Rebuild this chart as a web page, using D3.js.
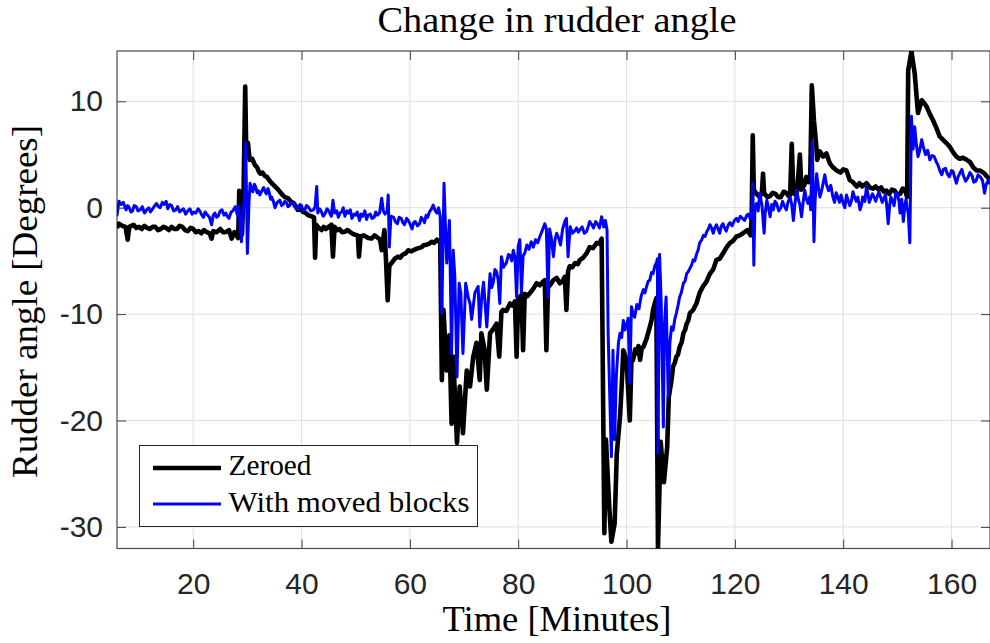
<!DOCTYPE html>
<html>
<head>
<meta charset="utf-8">
<script src="https://d3js.org/d3.v7.min.js"></script>
<style>
    body { margin: 0; background: #ffffff; }
    .grid line { stroke: #dedede; stroke-width: 1; }
    .axis text { font-family: "Liberation Sans", Arial, sans-serif; font-size: 30px; fill: #262626; }
    .axis line { stroke: #404040; stroke-width: 1; }
    .serif { font-family: "Liberation Serif", "Times New Roman", serif; fill: #000000; }
</style>
</head>
<body>
<script>
//chart texts
var chartTitle = "Change in rudder angle",
    xTitle = "Time [Minutes]",
    yTitle = "Rudder angle [Degrees]",
    seriesNames = ["Zeroed", "With moved blocks"];

//tick values and their labels
var xTicks = [20, 40, 60, 80, 100, 120, 140, 160];
var xTickLabels = ["20", "40", "60", "80", "100", "120", "140", "160"];
var yTicks = [-30, -20, -10, 0, 10];
var yTickLabels = ["-30", "-20", "-10", "0", "10"];

//axis limits (tight to the data)
var xLimits = [5.93, 167.1];
var yLimits = [-32.03, 14.73];

//zeroed series: [minutes, degrees]
var zeroedData = [
    [5.9,-1.9],[6.3,-1.5],[6.9,-1.7],[7.5,-1.8],[7.9,-3.0],[8.2,-1.8],[9,-1.6],[9.5,-1.9],[10,-1.8],[10.5,-2.0],
    [11,-1.7],[11.5,-1.9],[12,-2.0],[12.5,-1.8],[13,-1.8],[13.5,-2.1],[14,-2.0],[14.5,-1.8],[15,-1.9],[15.5,-2.1],
    [16,-1.8],[16.5,-2.0],[17,-2.0],[17.5,-1.7],[18,-1.8],[18.5,-2.1],[19,-2.2],[19.5,-1.9],[20,-2.0],[20.5,-2.3],
    [21,-2.2],[21.5,-2.4],[22,-2.1],[22.5,-2.3],[23,-2.4],[23.4,-2.9],[23.7,-2.2],[24.3,-2.3],[25,-2.0],[25.5,-2.3],
    [26,-2.3],[26.6,-2.1],[27.1,-2.9],[27.6,-2.3],[28.3,-2.85],[28.5,1.6],[28.8,1.0],[29.0,-2.5],[29.3,1.5],[29.6,11.4],
    [29.8,5.0],[30.1,6.1],[30.4,4.5],[30.9,4.6],[31.4,4.0],[31.8,3.8],[32.1,3.4],[32.4,3.2],[32.8,3.3],[33.2,3.0],
    [33.6,2.9],[34,2.6],[34.5,2.3],[35.1,2.0],[35.5,1.8],[36,1.5],[36.5,1.2],[36.9,1.0],[37.5,0.9],[38,0.6],
    [38.6,0.4],[39.3,-0.2],[39.8,-0.1],[40.3,-0.4],[40.8,-0.5],[41.2,-0.7],[41.8,-0.8],[42.3,-0.9],[42.5,-4.7],[42.7,-1.6],
    [43.2,-1.9],[43.7,-2.1],[44.1,-1.8],[44.5,-2.0],[45.0,-1.8],[45.5,-1.6],[45.8,-4.6],[46.1,-1.8],[46.6,-2.1],[47,-2.0],
    [47.5,-2.3],[48,-2.25],[48.5,-2.1],[49,-2.3],[49.6,-2.5],[50.4,-2.6],[50.6,-4.6],[50.9,-2.7],[51.5,-2.6],[52.3,-2.85],
    [52.9,-2.9],[53.5,-2.6],[54.0,-2.8],[54.5,-3.0],[54.8,-4.0],[55.3,-2.1],[55.6,-5.0],[55.9,-8.7],[56.2,-5.5],[56.6,-5.2],
    [57.2,-4.8],[57.8,-4.6],[58.2,-4.7],[58.7,-4.4],[59.2,-4.3],[59.7,-4.0],[60.3,-4.1],[61,-3.9],[61.6,-3.8],[62.2,-3.7],
    [62.6,-3.5],[63,-3.5],[63.5,-3.4],[64,-3.2],[64.5,-3.3],[65,-3.0],[65.6,-3.3],[65.9,-16.2],[66.2,-9.6],[66.8,-15.3],
    [67.3,-12.0],[67.7,-20.3],[68.0,-14.0],[68.7,-22.1],[69.2,-16.8],[69.8,-21.2],[70.5,-15.3],[71.1,-16.8],[71.7,-14.0],[72.3,-12.7],
    [72.9,-16.2],[73.2,-11.8],[73.8,-13.4],[74.2,-17.1],[74.8,-11.8],[75.4,-11.4],[76.0,-10.9],[76.5,-14.0],[76.9,-9.8],[77.2,-9.6],
    [77.8,-9.7],[78.5,-9.0],[79.0,-9.2],[79.4,-8.8],[79.7,-14.0],[80.0,-8.6],[80.6,-8.2],[80.9,-13.4],[81.2,-8.1],[81.7,-8.3],
    [82.2,-8.0],[82.8,-7.6],[83.4,-7.1],[84.0,-7.3],[84.5,-7.0],[84.9,-6.8],[85.2,-13.4],[85.5,-7.5],[86.0,-7.2],[86.5,-6.8],
    [87.1,-6.6],[87.7,-7.1],[88.2,-6.9],[88.6,-6.5],[88.9,-9.6],[89.2,-6.0],[89.5,-5.5],[90.0,-5.6],[90.5,-5.2],[91.0,-5.3],
    [91.4,-4.9],[92.0,-4.7],[92.6,-4.3],[93.2,-3.7],[93.8,-3.8],[94.5,-3.3],[95.0,-3.4],[95.4,-2.9],[95.9,-30.6],[96.2,-21.8],
    [96.8,-28.0],[97.2,-31.4],[97.8,-29.7],[98.2,-23.1],[98.8,-19.6],[99.1,-16.8],[99.4,-13.4],[100.0,-14.3],[100.6,-20.0],[100.9,-14.5],
    [101.2,-14.3],[101.6,-13.3],[101.9,-13.7],[102.2,-13.0],[102.5,-14.3],[102.8,-13.2],[103.1,-13.1],[103.7,-12.3],[104.3,-11.2],[104.6,-10.6],
    [104.9,-9.6],[105.2,-9.0],[105.5,-8.5],[105.8,-32.0],[106.3,-22.0],[106.9,-25.8],[107.5,-22.5],[107.8,-17.8],[108.3,-16.2],[108.6,-14.9],
    [108.9,-14.6],[109.2,-14.0],[109.5,-13.8],[109.8,-13.1],[110.2,-12.6],[110.5,-11.8],[110.8,-11.5],[111.1,-10.9],[111.4,-10.6],[111.7,-9.9],
    [112.3,-9.6],[112.9,-9.0],[113.5,-8.0],[114.1,-7.4],[114.7,-7.0],[115.4,-6.2],[116.0,-5.8],[116.6,-4.9],[117.2,-4.8],[117.8,-4.3],
    [118.5,-3.7],[119.1,-3.3],[119.7,-3.1],[120.3,-2.7],[120.9,-2.6],[121.5,-2.4],[122.3,-2.1],[122.9,-2.6],[123.1,-1.0],[123.3,6.8],
    [123.5,1.7],[124,1.3],[124.6,1.0],[125.0,1.5],[125.2,3.2],[125.4,1.35],[126.0,1.0],[126.5,1.1],[127.0,1.4],[127.5,1.3],
    [128.0,1.0],[128.5,1.0],[129.0,1.5],[129.5,1.4],[129.9,1.1],[130.2,1.2],[130.5,6.0],[130.8,1.4],[131.2,1.2],[131.5,1.6],
    [132.0,5.0],[132.3,1.7],[132.8,2.1],[133.2,2.9],[133.6,2.4],[133.9,2.5],[134.2,11.5],[134.6,8.2],[135.0,6.0],[135.2,4.5],
    [135.7,5.3],[136.3,4.8],[136.9,5.1],[137.5,4.2],[138.1,3.8],[138.8,3.5],[139.5,3.3],[140.0,3.6],[140.6,3.5],[141.2,2.6],
    [141.8,2.4],[142.5,2.0],[143.0,2.3],[143.5,2.0],[144.3,2.3],[144.9,1.9],[145.5,1.8],[146.0,2.0],[146.5,1.7],[147.0,1.9],
    [147.5,1.5],[148.0,1.6],[148.5,1.3],[149.0,1.7],[149.5,1.6],[150.0,1.2],[150.5,1.3],[151.0,1.8],[151.4,1.7],[151.8,1.0],
    [152.0,12.9],[152.6,14.7],[153.2,12.6],[153.8,8.9],[154.5,10.1],[155.0,9.8],[155.4,9.5],[156.0,8.8],[156.6,8.2],[157.2,7.5],
    [157.8,6.7],[158.4,6.4],[159.1,6.05],[159.7,5.7],[160.3,5.2],[160.9,4.8],[161.5,4.6],[162.1,4.7],[162.8,4.5],[163.4,4.3],
    [164.0,3.8],[164.6,3.5],[165.3,3.5],[166.1,3.2],[167.1,2.6]
];

//moved blocks series: [minutes, degrees]
var movedData = [
    [5.9,-0.8],[6.3,0.6],[6.7,0.3],[7.1,0.5],[7.6,-0.2],[7.9,0.2],[8.2,0.0],[8.5,-0.4],[8.8,-0.3],[9.1,0.2],
    [9.5,0.1],[9.8,-0.3],[10.2,-0.2],[10.6,0.1],[11,-0.5],[11.4,-0.2],[11.8,0.0],[12.1,-0.4],[12.5,-0.1],[12.9,0.2],
    [13.2,0.4],[13.6,0.1],[13.9,0.0],[14.3,0.5],[14.6,0.3],[15.0,0.6],[15.3,-0.1],[15.7,0.3],[16,0.2],[16.4,-0.3],
    [16.8,-0.2],[17.1,0.1],[17.5,-0.4],[17.9,-0.2],[18.2,-0.1],[18.6,-0.6],[19,-0.3],[19.4,-0.1],[19.8,-0.6],[20.1,-0.4],
    [20.5,-0.5],[20.9,-0.1],[21.2,-0.3],[21.6,-0.7],[21.9,-0.9],[22.2,-0.4],[22.5,-0.6],[23.0,-0.9],[23.4,-1.6],[23.7,-0.7],
    [24,-0.5],[24.3,-0.9],[24.6,-0.8],[25.0,-0.3],[25.3,-0.2],[25.7,-0.7],[26,-0.5],[26.3,-0.8],[26.6,-1.0],[27.0,-0.4],
    [27.3,-0.3],[27.8,0.1],[28.1,-0.6],[28.4,0.1],[28.9,-3.2],[29.2,-0.5],[29.5,1.0],[29.7,6.1],[29.9,-1.0],[30.0,-4.3],
    [30.3,0.5],[30.5,2.3],[30.8,1.8],[31,1.5],[31.3,2.2],[31.5,2.0],[31.8,1.4],[32,1.6],[32.3,1.2],[32.5,1.4],
    [33,1.9],[33.3,1.5],[33.5,1.3],[33.8,1.8],[34,1.5],[34.3,0.8],[34.5,1.0],[34.8,0.6],[35.1,0.0],[35.5,0.5],
    [36.0,0.7],[36.3,0.2],[36.6,0.3],[36.9,0.6],[37.2,0.5],[37.5,0.1],[37.8,0.2],[38.1,0.5],[38.5,0.4],[38.9,0.0],
    [39.3,-0.1],[39.7,0.3],[40,0.2],[40.3,-0.3],[40.6,-0.2],[40.9,0.2],[41.2,0.1],[41.7,-0.3],[42.2,-0.2],[42.5,0.1],
    [42.8,2.0],[43.0,-0.5],[43.3,-0.1],[43.6,-0.3],[44.0,-0.8],[44.3,-0.6],[44.7,-0.1],[45.0,-0.3],[45.5,-0.8],[45.8,0.7],
    [46.1,-0.5],[46.5,-0.3],[46.8,-0.9],[47.1,-0.5],[47.4,-0.4],[47.7,0.0],[48.0,-0.8],[48.4,-0.3],[48.7,-0.5],[49.0,-0.2],
    [49.3,-1.0],[49.7,-0.6],[50,-0.7],[50.3,-0.4],[50.7,-1.2],[51.0,-0.6],[51.3,-0.8],[51.7,-0.3],[52,-1.1],[52.3,-0.7],
    [52.7,-0.6],[53.0,-1.0],[53.4,-0.9],[53.7,-0.4],[54,-0.7],[54.4,-0.5],[54.8,0.9],[55.1,-0.3],[55.4,-0.6],[55.8,-0.3],
    [56.0,1.2],[56.2,-3.7],[56.5,-0.8],[57,-0.9],[57.3,-1.3],[57.7,-1.5],[58.0,-0.9],[58.4,-1.0],[58.7,-1.4],[59,-1.6],
    [59.4,-1.0],[59.7,-1.2],[60.0,-1.5],[60.4,-2.0],[60.7,-1.4],[61,-1.3],[61.4,-1.7],[61.8,-1.5],[62.1,-0.9],[62.4,-1.1],
    [62.7,-1.4],[63,-0.7],[63.3,-0.9],[63.6,-0.4],[64.0,-0.1],[64.3,0.25],[64.7,-0.3],[65.0,-0.5],[65.3,0.0],[65.6,-0.8],
    [65.9,-9.9],[66.3,2.3],[66.8,-5.2],[67.3,-1.2],[67.7,-13.7],[68.0,-4.0],[68.3,-6.5],[68.7,-15.9],[69.1,-7.1],[69.4,-8.0],
    [69.8,-13.7],[70.3,-7.1],[70.8,-8.5],[71.1,-9.0],[71.4,-10.5],[72.0,-8.0],[72.6,-7.4],[72.9,-11.2],[73.3,-8.2],[73.6,-7.0],
    [74.2,-11.2],[74.8,-6.2],[75.1,-7.5],[75.4,-7.0],[75.7,-5.8],[76.0,-6.0],[76.3,-6.8],[76.6,-9.0],[76.9,-4.6],[77.3,-5.6],
    [77.8,-5.2],[78.2,-4.4],[78.5,-4.5],[78.8,-5.0],[79.1,-4.0],[79.4,-4.6],[79.7,-8.4],[80.0,-3.6],[80.3,-3.0],[80.6,-8.0],
    [80.9,-4.5],[81.2,-4.3],[81.6,-3.5],[82.0,-3.9],[82.4,-3.2],[82.8,-3.7],[83.2,-3.0],[83.6,-3.3],[84.0,-2.7],[84.4,-2.2],
    [84.9,-1.5],[85.2,-2.0],[85.5,-8.4],[85.8,-2.0],[86.1,-2.8],[86.5,-4.6],[86.8,-3.0],[87.1,-2.4],[87.5,-2.9],[87.8,-3.5],
    [88.2,-2.0],[88.6,-1.3],[88.9,-1.0],[89.2,-4.6],[89.6,-1.8],[90.0,-2.4],[90.4,-2.2],[90.8,-1.9],[91.1,-2.3],[91.5,-2.0],
    [91.8,-1.8],[92.2,-2.4],[92.6,-2.25],[92.9,-1.8],[93.2,-1.3],[93.6,-1.6],[93.9,-1.9],[94.3,-1.3],[94.6,-1.5],[95.0,-1.9],
    [95.4,-0.85],[95.8,-1.8],[96.1,-1.2],[96.4,-2.1],[96.6,-11.8],[97.2,-23.4],[97.5,-13.4],[97.8,-21.8],[98.1,-16.0],[98.5,-12.7],
    [98.8,-11.8],[99.1,-12.2],[99.4,-10.6],[99.7,-11.5],[100.0,-11.0],[100.3,-10.4],[100.6,-16.5],[100.9,-9.3],[101.2,-10.0],[101.5,-10.3],
    [101.9,-9.1],[102.3,-9.5],[102.7,-8.3],[103.1,-7.7],[103.4,-8.0],[103.7,-7.4],[104.0,-6.9],[104.3,-6.8],[104.6,-6.1],[104.9,-6.2],
    [105.2,-5.5],[105.5,-5.2],[105.7,-4.8],[105.8,-23.1],[106.1,-4.4],[106.4,-9.0],[106.8,-20.6],[107.0,-11.0],[107.3,-8.4],[107.7,-17.8],
    [108.0,-12.7],[108.3,-11.2],[108.6,-11.5],[108.9,-10.5],[109.2,-9.9],[109.5,-9.2],[109.8,-8.4],[110.1,-8.0],[110.5,-7.1],[110.8,-6.9],
    [111.1,-6.2],[111.4,-6.0],[111.7,-5.7],[112.0,-5.4],[112.3,-4.9],[112.6,-5.0],[112.9,-4.4],[113.2,-4.0],[113.5,-3.3],[113.8,-3.1],
    [114.2,-2.6],[114.5,-2.7],[114.8,-2.25],[115.1,-2.0],[115.4,-1.6],[115.7,-1.9],[116.0,-2.4],[116.3,-1.9],[116.6,-1.6],[116.9,-2.0],
    [117.2,-2.4],[117.5,-1.7],[117.8,-1.5],[118.1,-1.9],[118.4,-2.2],[118.8,-1.6],[119.1,-1.4],[119.5,-1.7],[119.9,-1.2],[120.3,-1.0],
    [120.6,-1.3],[121.0,-0.8],[121.4,-1.0],[121.8,-1.2],[122.2,-0.7],[122.5,-0.6],[122.8,-1.0],[123.1,-0.5],[123.3,2.3],[123.5,-5.4],
    [123.7,0.0],[124.0,0.4],[124.3,-0.3],[124.6,1.35],[125.0,0.2],[125.4,-2.4],[125.6,-0.5],[125.9,0.7],[126.2,0.0],[126.5,-0.85],
    [126.8,0.3],[127.1,-0.2],[127.4,0.6],[127.7,0.4],[128.1,-0.3],[128.5,0.0],[128.8,0.6],[129.1,0.2],[129.5,-0.2],[129.8,0.5],
    [130.2,1.0],[130.5,0.3],[130.8,-1.2],[131.1,0.4],[131.4,1.66],[131.8,0.6],[132.0,0.3],[132.3,-0.85],[132.6,0.5],[132.9,1.66],
    [133.2,0.8],[133.5,0.4],[133.8,1.0],[134.0,-0.2],[134.3,6.2],[134.6,-3.2],[134.8,0.5],[135.1,3.2],[135.4,2.0],[135.7,1.0],
    [136.1,1.8],[136.6,3.1],[136.9,2.2],[137.3,1.6],[137.7,2.1],[138.1,1.0],[138.4,0.5],[138.7,1.4],[139.0,1.0],[139.3,0.5],
    [139.6,1.2],[140.0,0.4],[140.3,0.0],[140.6,1.2],[140.9,0.7],[141.2,0.2],[141.5,0.6],[141.8,1.5],[142.1,1.0],[142.4,0.6],
    [142.7,1.0],[143.1,-0.2],[143.4,0.3],[143.6,1.0],[144.0,0.6],[144.3,2.0],[144.6,1.2],[144.8,0.5],[145.1,0.9],[145.4,1.3],
    [145.7,1.0],[146.0,0.6],[146.3,1.1],[146.6,1.5],[146.9,1.0],[147.2,0.5],[147.5,0.9],[147.8,1.2],[148.0,0.4],[148.3,-1.5],
    [148.6,0.3],[148.8,1.0],[149.1,0.6],[149.4,0.2],[149.7,1.4],[150.0,1.3],[150.3,0.6],[150.5,-0.5],[150.8,0.8],[151.1,-1.3],
    [151.4,0.3],[151.6,0.8],[151.8,0.0],[152.0,-0.5],[152.3,-3.3],[152.6,8.6],[152.9,5.5],[153.2,7.6],[153.5,6.0],[153.8,4.8],
    [154.1,5.3],[154.5,6.4],[154.8,5.7],[155.2,5.0],[155.6,5.4],[156.0,4.5],[156.4,4.9],[156.8,4.8],[157.2,4.3],[157.5,4.0],
    [157.9,3.4],[158.2,3.1],[158.5,3.6],[158.9,3.7],[159.2,3.2],[159.6,2.9],[160.0,3.5],[160.3,3.4],[160.6,2.8],[160.9,2.3],
    [161.2,2.9],[161.5,3.2],[161.9,3.6],[162.2,3.0],[162.6,2.5],[163.0,2.8],[163.4,3.3],[163.8,3.0],[164.1,2.4],[164.5,2.5],
    [164.9,3.1],[165.3,2.9],[165.7,2.6],[166.1,1.35],[166.4,2.2],[166.8,2.6],[167.1,2.2]
];

//wrap drawing in an anonymous function so nothing else is global
(function () {

    //frame dimensions
    var width = 990,
        height = 643,
        left = 117,
        right = 990,
        top = 51,
        bottom = 548.5,
        tickLen = 9;

    var svg = d3.select("body")
        .append("svg")
        .attr("width", width)
        .attr("height", height);

    svg.append("rect")
        .attr("width", width)
        .attr("height", height)
        .attr("fill", "#ffffff");

    //scales
    var x = d3.scaleLinear().domain(xLimits).range([left, right]);
    var y = d3.scaleLinear().domain(yLimits).range([bottom, top]);

    //grid lines
    var grid = svg.append("g").attr("class", "grid");
    grid.selectAll(".gx")
        .data(xTicks)
        .enter()
        .append("line")
        .attr("x1", function (d) { return x(d); })
        .attr("x2", function (d) { return x(d); })
        .attr("y1", top)
        .attr("y2", bottom);
    grid.selectAll(".gy")
        .data(yTicks)
        .enter()
        .append("line")
        .attr("x1", left)
        .attr("x2", right)
        .attr("y1", function (d) { return y(d); })
        .attr("y2", function (d) { return y(d); });

    //tick label lookups (hyphen minus, like the original)
    function xLabel(d) { return xTickLabels[xTicks.indexOf(d)]; }
    function yLabel(d) { return yTickLabels[yTicks.indexOf(d)]; }

    //axes with inward ticks
    svg.append("g")
        .attr("class", "axis")
        .attr("transform", "translate(0," + bottom + ")")
        .call(d3.axisBottom(x).tickValues(xTicks).tickFormat(xLabel)
            .tickSizeInner(-tickLen).tickSizeOuter(0).tickPadding(24));
    svg.append("g")
        .attr("class", "axis")
        .attr("transform", "translate(0," + top + ")")
        .call(d3.axisTop(x).tickValues(xTicks).tickFormat("")
            .tickSizeInner(-tickLen).tickSizeOuter(0));
    svg.append("g")
        .attr("class", "axis")
        .attr("transform", "translate(" + left + ",0)")
        .call(d3.axisLeft(y).tickValues(yTicks).tickFormat(yLabel)
            .tickSizeInner(-tickLen).tickSizeOuter(0).tickPadding(14));
    svg.append("g")
        .attr("class", "axis")
        .attr("transform", "translate(" + right + ",0)")
        .call(d3.axisRight(y).tickValues(yTicks).tickFormat("")
            .tickSizeInner(-tickLen).tickSizeOuter(0));
    svg.selectAll(".axis .domain").remove();

    //plot box
    svg.append("rect")
        .attr("x", left)
        .attr("y", top)
        .attr("width", right - left)
        .attr("height", bottom - top)
        .attr("fill", "none")
        .attr("stroke", "#4a4a4a")
        .attr("stroke-width", 1.2);

    //clip the traces to the plot box
    svg.append("clipPath")
        .attr("id", "plotClip")
        .append("rect")
        .attr("x", left)
        .attr("y", top)
        .attr("width", right - left)
        .attr("height", bottom - top);

    var line = d3.line()
        .x(function (d) { return x(d[0]); })
        .y(function (d) { return y(d[1]); });

    var traces = svg.append("g").attr("clip-path", "url(#plotClip)");
    traces.append("path")
        .datum(zeroedData)
        .attr("d", line)
        .attr("fill", "none")
        .attr("stroke", "#000000")
        .attr("stroke-width", 4.6)
        .attr("stroke-linejoin", "round");
    traces.append("path")
        .datum(movedData)
        .attr("d", line)
        .attr("fill", "none")
        .attr("stroke", "#0000ff")
        .attr("stroke-width", 3)
        .attr("stroke-linejoin", "round");

    //serif text stretched to the measured width
    function serifText(parent, str, px, py, size, len, anchor) {
        return parent.append("text")
            .attr("class", "serif")
            .attr("x", px)
            .attr("y", py)
            .attr("font-size", size)
            .attr("text-anchor", anchor)
            .attr("textLength", len)
            .attr("lengthAdjust", "spacingAndGlyphs")
            .text(str);
    }

    serifText(svg, chartTitle, 557, 32, 35, 359, "middle");
    serifText(svg, xTitle, 557, 631, 35, 229, "middle");
    serifText(svg.append("g").attr("transform", "translate(37,301.5) rotate(-90)"), yTitle, 0, 0, 35, 353, "middle");

    //legend
    var legend = svg.append("g");
    legend.append("rect")
        .attr("x", 139.5)
        .attr("y", 445.5)
        .attr("width", 338)
        .attr("height", 81)
        .attr("fill", "#ffffff")
        .attr("stroke", "#262626")
        .attr("stroke-width", 1);
    var legendRows = [
        { name: seriesNames[0], color: "#000000", w: 4.6, ly: 468, ty: 475, len: 83 },
        { name: seriesNames[1], color: "#0000ff", w: 3, ly: 504, ty: 512, len: 241 }
    ];
    legendRows.forEach(function (r) {
        legend.append("line")
            .attr("x1", 153)
            .attr("x2", 221)
            .attr("y1", r.ly)
            .attr("y2", r.ly)
            .attr("stroke", r.color)
            .attr("stroke-width", r.w);
        serifText(legend, r.name, 228.5, r.ty, 28.5, r.len, "start");
    });

})();
</script>
</body>
</html>
